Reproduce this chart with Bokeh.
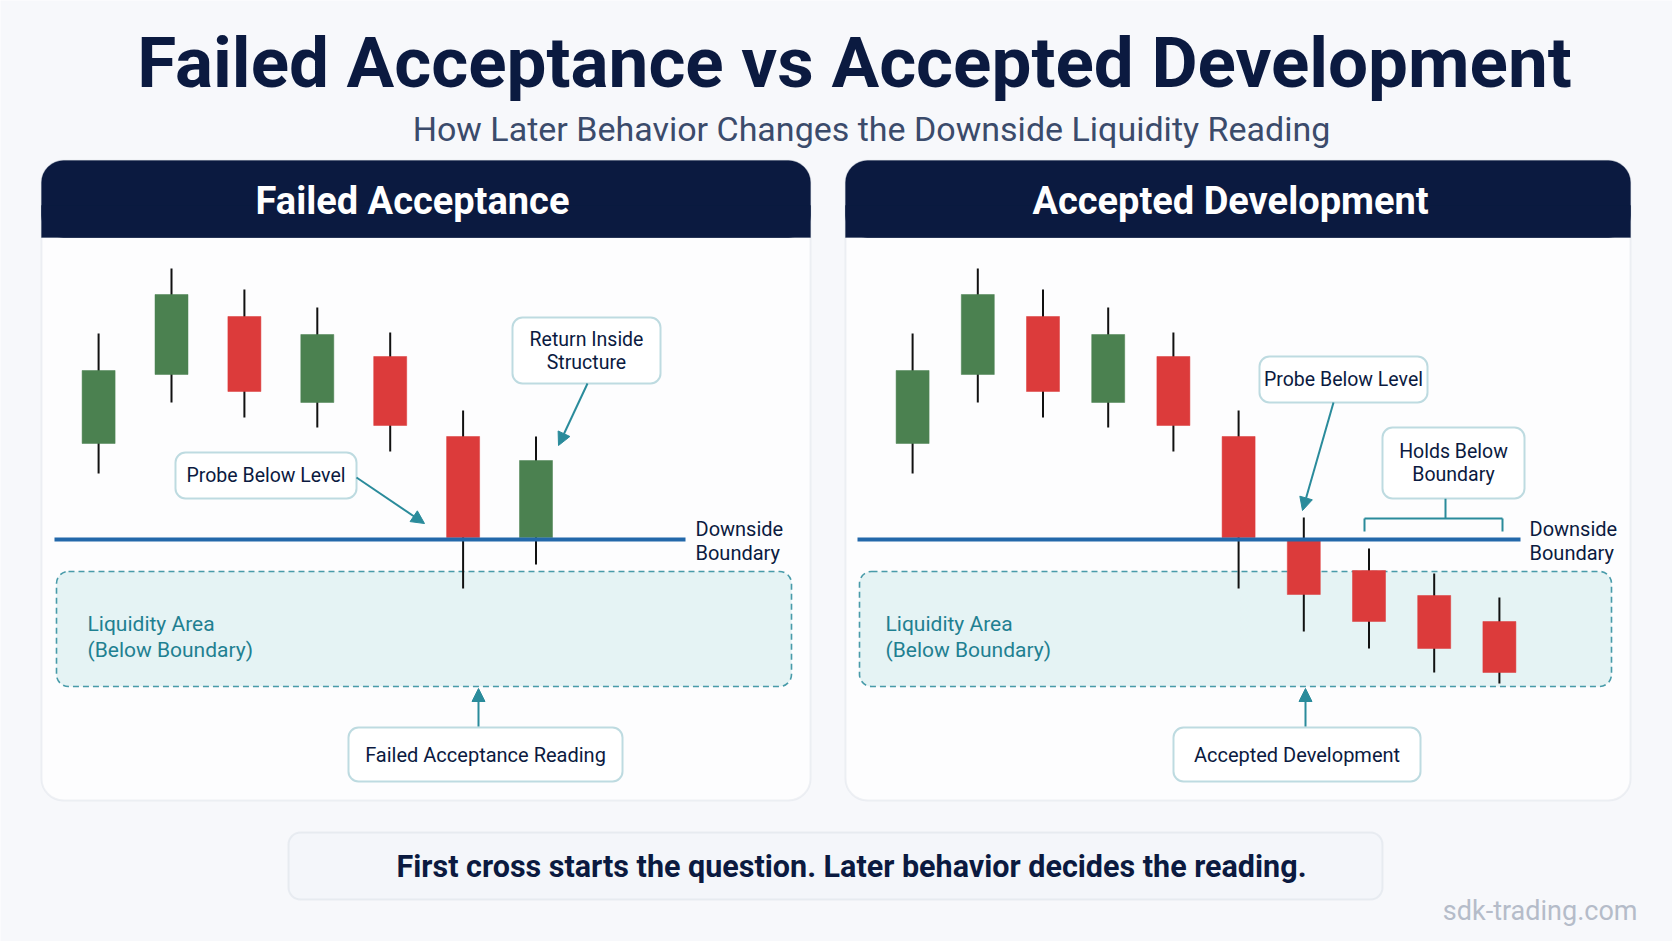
from bokeh.plotting import figure
from bokeh.models import Range1d, BoxAnnotation, Arrow, NormalHead, Label, ColumnDataSource
from bokeh.embed import file_html
from bokeh.resources import INLINE

W, H = 1672, 941

# ---------------- data (price units, boundary = 100) ----------------
left_open  = [109.6, 116.5, 122.3, 113.7, 118.3, 110.3, 100.2]
left_close = [116.9, 124.5, 114.8, 120.5, 111.4, 100.2, 107.9]
left_high  = [120.6, 127.1, 125.0, 123.2, 120.7, 112.9, 110.3]
left_low   = [106.6, 113.7, 112.2, 111.2, 108.8, 95.1, 97.5]

right_open  = [109.6, 116.5, 122.3, 113.7, 118.3, 110.3, 99.9, 96.9, 94.4, 91.8]
right_close = [116.9, 124.5, 114.8, 120.5, 111.4, 100.2, 94.5, 91.8, 89.1, 86.7]
right_high  = [120.6, 127.1, 125.0, 123.2, 120.7, 112.9, 102.2, 99.1, 96.6, 94.2]
right_low   = [106.6, 113.7, 112.2, 111.2, 108.8, 95.1, 90.8, 89.1, 86.7, 85.6]

boundary_level = 100.0
liquidity_top = 96.8
liquidity_bottom = 85.3

title = "Failed Acceptance vs Accepted Development"
subtitle = "How Later Behavior Changes the Downside Liquidity Reading"
panel_titles = ["Failed Acceptance", "Accepted Development"]
footer = "First cross starts the question. Later behavior decides the reading."
watermark = "sdk-trading.com"

# ---------------- styles ----------------
BG = "#f7f8fb"
NAVY = "#0b1a40"
GREEN = "#4b8150"
RED = "#dc3b3b"
BLUE = "#2368aa"
TEAL = "#2a8b9b"
TEAL_TXT = "#1f8091"
LIQ_FILL = "#e5f3f4"
FONT = "Roboto"


def T(y):
    return H - y


p = figure(width=W, height=H, x_range=Range1d(0, W), y_range=Range1d(0, H),
           output_backend="svg", toolbar_location=None, min_border=0)
p.xaxis.visible = False
p.yaxis.visible = False
p.grid.visible = False
p.outline_line_color = None
p.background_fill_color = BG
p.border_fill_color = BG

# price scale: boundary at 539px from top, 10 px per price unit
p.extra_y_ranges = {"price": Range1d(100 - (H - 539) / 10.0, 100 + 539 / 10.0)}
# bar index scales per panel
lstep, l0 = 72.9, 98.1
rstep, r0 = 65.2, 912.1
p.extra_x_ranges = {
    "lt": Range1d(-l0 / lstep, (W - l0) / lstep),
    "rt": Range1d(-r0 / rstep, (W - r0) / rstep),
}


def label(x, y, text, size, color=NAVY, bold=False, align="center", font=FONT):
    p.add_layout(Label(x=x, y=T(y), text=text, text_font=font, text_font_size=f"{size}px",
                       text_color=color, text_font_style="bold" if bold else "normal",
                       text_align=align, text_baseline="middle"))


def box(l, r, t, b, fill, line, radius, lw=1.5, dash="solid", level="annotation"):
    p.add_layout(BoxAnnotation(left=l, right=r, top=T(t), bottom=T(b), fill_color=fill,
                               fill_alpha=1, line_color=line, line_width=lw,
                               line_dash=dash, border_radius=radius, level=level))


# titles
label(854, 62, title, 71, NAVY, bold=True)
label(871, 128, subtitle, 34, "#3b4b6b")

# panels
panels = [(41, 810), (845, 1630)]
centers = [412, 1230]
for (l, r), ttl, cx in zip(panels, panel_titles, centers):
    box(l, r, 160, 800, "#fdfdfe", "#cdd3df", 22, lw=2, level="underlay")
    box(l, r, 160, 237, NAVY, NAVY, 22, lw=1, level="underlay")
    box(l, r, 205, 237, NAVY, NAVY, 0, lw=1, level="underlay")
    label(cx, 200, ttl, 38, "white", bold=True)

# liquidity areas (price coords)
for l, r in [(56, 791), (859, 1611)]:
    p.add_layout(BoxAnnotation(left=l, right=r, top=liquidity_top, bottom=liquidity_bottom,
                               y_range_name="price", fill_color=LIQ_FILL, fill_alpha=1,
                               line_color=TEAL, line_alpha=0.85, line_width=1.6,
                               line_dash="6 4", border_radius=12, level="underlay"))
for x in (87, 885):
    label(x, 623, "Liquidity Area", 21, TEAL_TXT, align="left")
    label(x, 649, "(Below Boundary)", 21, TEAL_TXT, align="left")


def candles(opens, closes, highs, lows, xname, step):
    idx = list(range(len(opens)))
    src = ColumnDataSource(dict(
        x=idx, high=highs, low=lows,
        top=[max(o, c) for o, c in zip(opens, closes)],
        bottom=[min(o, c) for o, c in zip(opens, closes)],
        color=[GREEN if c > o else RED for o, c in zip(opens, closes)],
    ))
    p.segment(x0="x", y0="low", x1="x", y1="high", source=src, line_color="#111111",
              line_width=2, x_range_name=xname, y_range_name="price")
    p.vbar(x="x", top="top", bottom="bottom", width=33.0 / step, source=src,
           fill_color="color", line_color="color", line_width=0.5,
           x_range_name=xname, y_range_name="price")


candles(left_open, left_close, left_high, left_low, "lt", lstep)
candles(right_open, right_close, right_high, right_low, "rt", rstep)

# boundary lines
p.segment(x0=[54, 857], y0=[boundary_level] * 2, x1=[685, 1520], y1=[boundary_level] * 2,
          line_color=BLUE, line_width=4, y_range_name="price")
for x in (695, 1529):
    label(x, 528, "Downside", 20, NAVY, align="left")
    label(x, 552, "Boundary", 20, NAVY, align="left")


def arrow(x0, y0, x1, y1):
    p.add_layout(Arrow(end=NormalHead(size=13, fill_color=TEAL, line_color=TEAL),
                       x_start=x0, y_start=T(y0), x_end=x1, y_end=T(y1),
                       line_color=TEAL, line_width=2))


def callout(l, r, t, b, lines, size=19.5):
    box(l, r, t, b, "white", TEAL, 10, lw=2)
    cx = (l + r) / 2
    n = len(lines)
    cy = (t + b) / 2
    for i, s in enumerate(lines):
        label(cx, cy + (i - (n - 1) / 2) * 23, s, size, NAVY)


# left panel callouts
callout(175, 356, 452, 498, ["Probe Below Level"])
arrow(356, 477, 424, 523)
callout(512, 660, 317, 383, ["Return Inside", "Structure"])
arrow(587, 383, 558, 445)
callout(348, 622, 727, 781, ["Failed Acceptance Reading"], 20)
arrow(478, 726, 478, 688)

# right panel callouts
callout(1259, 1427, 356, 402, ["Probe Below Level"])
arrow(1333, 402, 1302, 510)
callout(1382, 1524, 427, 498, ["Holds Below", "Boundary"])
p.multi_line(xs=[[1445, 1445], [1364, 1502], [1364, 1364], [1502, 1502]],
             ys=[[T(498), T(518)], [T(518), T(518)], [T(518), T(531)], [T(518), T(531)]],
             line_color=TEAL, line_width=2)
callout(1173, 1420, 727, 781, ["Accepted Development"], 20)
arrow(1305, 726, 1305, 688)

# footer
box(288, 1382, 832, 899, "#f4f6fa", "#c8cfdb", 12, lw=2, level="underlay")
label(851, 866, footer, 30.5, NAVY, bold=True)
label(1637, 910, watermark, 27, "#b5bcc9", align="right")

open("out.html", "w").write(file_html(p, INLINE))
